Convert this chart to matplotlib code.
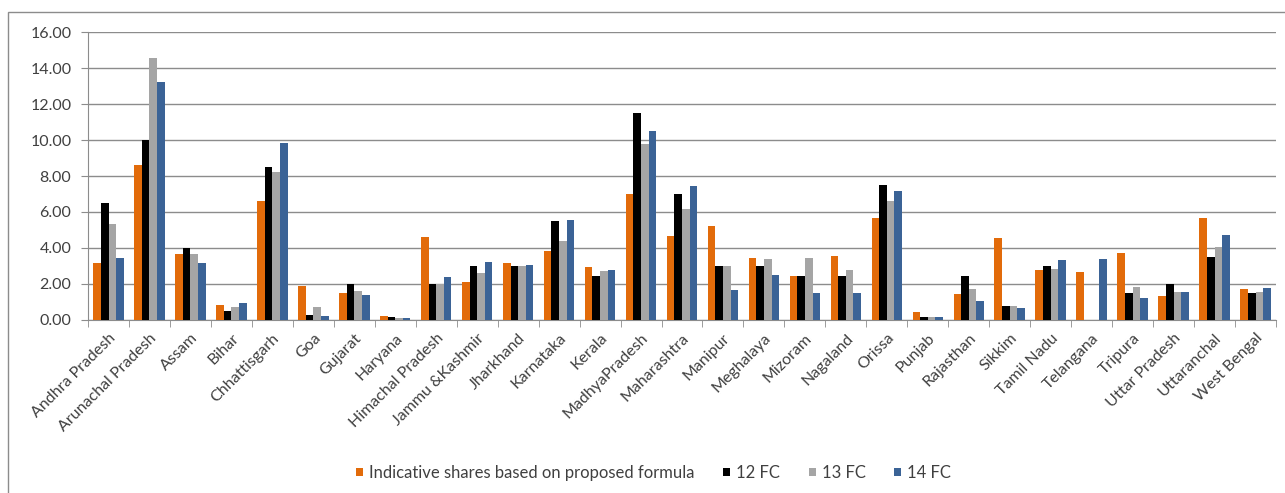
import matplotlib
matplotlib.use("Agg")
import matplotlib.pyplot as plt
from matplotlib.patches import Rectangle
import numpy as np

states = ["Andhra Pradesh", "Arunachal Pradesh", "Assam", "Bihar", "Chhattisgarh",
          "Goa", "Gujarat", "Haryana", "Himachal Pradesh", "Jammu &Kashmir",
          "Jharkhand", "Karnataka", "Kerala", "MadhyaPradesh", "Maharashtra",
          "Manipur", "Meghalaya", "Mizoram", "Nagaland", "Orissa", "Punjab",
          "Rajasthan", "Sikkim", "Tamil Nadu", "Telangana", "Tripura",
          "Uttar Pradesh", "Uttaranchal", "West Bengal"]

proposed = [3.19, 8.61, 3.67, 0.85, 6.61, 1.87, 1.50, 0.24, 4.63, 2.11,
            3.19, 3.85, 2.94, 6.98, 4.69, 5.22, 3.44, 2.46, 3.56, 5.65, 0.43,
            1.44, 4.57, 2.78, 2.65, 3.72, 1.31, 5.65, 1.74]
fc12 = [6.50, 10.00, 4.00, 0.48, 8.48, 0.30, 1.98, 0.17, 1.98, 3.00,
        3.00, 5.48, 2.46, 11.48, 6.98, 3.00, 3.00, 2.46, 2.46, 7.52, 0.17,
        2.46, 0.78, 3.00, 0.00, 1.50, 1.98, 3.50, 1.50]
fc13 = [5.35, 14.55, 3.67, 0.70, 8.22, 0.72, 1.61, 0.11, 1.98, 2.63,
        3.00, 4.39, 2.70, 9.80, 6.19, 3.00, 3.37, 3.43, 2.76, 6.61, 0.17,
        1.74, 0.78, 2.81, 0.00, 1.85, 1.56, 4.07, 1.56]
fc14 = [3.44, 13.22, 3.19, 0.93, 9.85, 0.24, 1.39, 0.11, 2.41, 3.24,
        3.07, 5.54, 2.76, 10.50, 7.46, 1.69, 2.52, 1.50, 1.50, 7.15, 0.17,
        1.07, 0.65, 3.31, 3.37, 1.20, 1.56, 4.74, 1.80]

series = [proposed, fc12, fc13, fc14]
labels = ["Indicative shares based on proposed formula", "12 FC", "13 FC", "14 FC"]
colors = ["#E26B0A", "#000000", "#A5A5A5", "#3B6396"]

plt.rcParams["font.family"] = ["Lato", "DejaVu Sans"]

fig = plt.figure(figsize=(12.85, 4.93), dpi=100)
ax = fig.add_axes([0.0685, 0.351, 0.9245, 0.584])

x = np.arange(len(states))
w = 0.186
for i, (vals, lab, col) in enumerate(zip(series, labels, colors)):
    ax.bar(x + (i - 1.5) * w, vals, width=w, color=col, label=lab, zorder=3)

ax.set_xlim(-0.5, len(states) - 0.5)
ax.set_ylim(0, 16)
ax.set_yticks(np.arange(0, 17, 2))
ax.set_yticklabels(["%.2f" % v for v in np.arange(0, 17, 2)], fontsize=11.5, color="#404040")
ax.yaxis.grid(True, color="#8C8C8C", linewidth=1, zorder=0)
ax.tick_params(axis="y", length=5, color="#8C8C8C", pad=7)

# category labels at centres, tick marks on the boundaries
ax.set_xticks(x)
ax.set_xticklabels(states, rotation=45, ha="right", rotation_mode="anchor",
                   fontsize=11.5, color="#404040")
ax.tick_params(axis="x", length=0, pad=8)
ax.set_xticks(np.arange(-0.5, len(states), 1), minor=True)
ax.tick_params(axis="x", which="minor", length=5, color="#8C8C8C", direction="out")

for s in ["top", "right"]:
    ax.spines[s].set_visible(False)
for s in ["left", "bottom"]:
    ax.spines[s].set_color("#8C8C8C")

fig.legend(loc="center", bbox_to_anchor=(0.5086, 0.041), ncol=4, frameon=False,
           fontsize=12, handlelength=0.42, handleheight=0.42, handletextpad=0.36,
           columnspacing=1.7, labelcolor="#404040")

fig.patches.append(Rectangle((8 / 1285, -10 / 493), 1290 / 1285, 491 / 493,
                             transform=fig.transFigure, fill=False,
                             edgecolor="#8C8C8C", linewidth=1))

fig.savefig("out.png", dpi=100)
